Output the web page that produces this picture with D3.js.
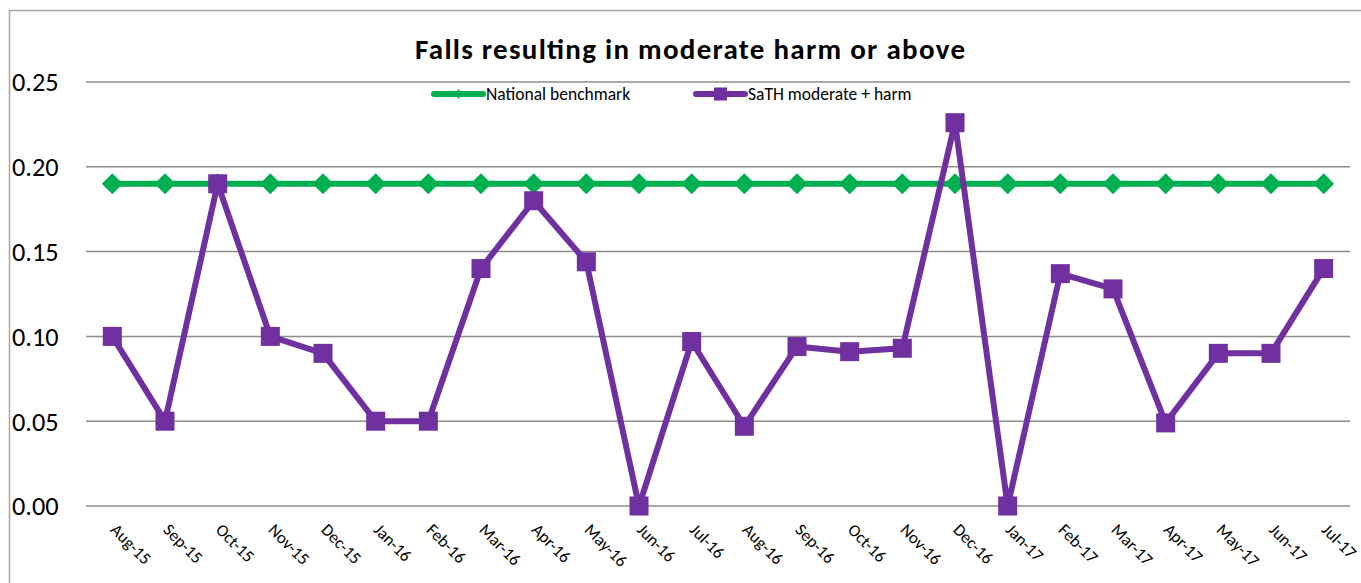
<!DOCTYPE html>
<html>
<head>
<meta charset="utf-8">
<script src="https://cdn.jsdelivr.net/npm/d3@7"></script>
<style>
  html, body { margin: 0; padding: 0; background: #fff; }
  svg { display: block; font-family: Carlito, Calibri, Lato, "Open Sans", sans-serif; }
  .ylab text { font-size: 26.3px; fill: #000; }
  .xlab text { font-size: 17px; fill: #000; }
</style>
</head>
<body>
<svg id="chart" width="1361" height="583"></svg>
<script>
const months = ["Aug-15","Sep-15","Oct-15","Nov-15","Dec-15","Jan-16","Feb-16","Mar-16","Apr-16","May-16","Jun-16","Jul-16",
                "Aug-16","Sep-16","Oct-16","Nov-16","Dec-16","Jan-17","Feb-17","Mar-17","Apr-17","May-17","Jun-17","Jul-17"];
const benchmark = [0.19,0.19,0.19,0.19,0.19,0.19,0.19,0.19,0.19,0.19,0.19,0.19,
                   0.19,0.19,0.19,0.19,0.19,0.19,0.19,0.19,0.19,0.19,0.19,0.19];
const sath = [0.100,0.050,0.190,0.100,0.090,0.050,0.050,0.140,0.180,0.144,0.000,0.097,
              0.047,0.094,0.091,0.093,0.226,0.000,0.137,0.128,0.049,0.090,0.090,0.140];
const yTicks = [0, 0.05, 0.10, 0.15, 0.20, 0.25];
const seriesNames = ["National benchmark", "SaTH moderate + harm"];
const chartTitle = "Falls resulting in moderate harm or above";

const GREEN = "#00B050", PURPLE = "#7030A0", GRID = "#8c8c8c";

const svg = d3.select("#chart");

// outer chart frame (left and top edges visible)
svg.append("path")
  .attr("d", "M9.5,583 V10.5 H1361")
  .attr("fill", "none").attr("stroke", "#a6a6a6").attr("stroke-width", 1.5);

const plot = { left: 86, right: 1350, top: 82, bottom: 506 };

const x = d3.scaleBand().domain(months).range([plot.left, plot.right]);
const y = d3.scaleLinear().domain([0, 0.25]).range([plot.bottom, plot.top]);

// horizontal gridlines
svg.append("g")
  .selectAll("line").data(yTicks).join("line")
  .attr("x1", plot.left).attr("x2", plot.right)
  .attr("y1", d => y(d)).attr("y2", d => y(d))
  .attr("stroke", GRID).attr("stroke-width", 1.5);

// y axis labels, left aligned at the chart edge
const yAxis = d3.axisLeft(y).tickValues(yTicks).tickFormat(d3.format(".2f")).tickSize(0).tickPadding(0);
const gy = svg.append("g").attr("class", "ylab").attr("transform", "translate(12,0)").call(yAxis)
  .attr("font-family", null).attr("font-size", null);
gy.select(".domain").remove();
gy.selectAll("text")
  .attr("text-anchor", "start").attr("x", 0).attr("dy", "0.34em");

// x axis labels, rotated 45 degrees
const xAxis = d3.axisBottom(x).tickSize(0).tickPadding(0);
const gx = svg.append("g").attr("class", "xlab").attr("transform", `translate(0,${plot.bottom})`).call(xAxis)
  .attr("font-family", null).attr("font-size", null);
gx.select(".domain").remove();
gx.selectAll("text")
  .attr("text-anchor", "start")
  .attr("dy", null).attr("y", 0)
  .attr("transform", "translate(0,22) rotate(45)")
  .attr("dominant-baseline", "middle");

const cx = d => x(d) + x.bandwidth() / 2;
const line = d3.line().x(d => cx(d.m)).y(d => y(d.v));

const benchData = months.map((m, i) => ({ m, v: benchmark[i] }));
const sathData = months.map((m, i) => ({ m, v: sath[i] }));

// national benchmark series
svg.append("path").datum(benchData)
  .attr("d", line).attr("fill", "none")
  .attr("stroke", GREEN).attr("stroke-width", 6).attr("stroke-linejoin", "round");
svg.append("g").selectAll("path").data(benchData).join("path")
  .attr("d", d3.symbol(d3.symbolDiamond2, 280)())
  .attr("transform", d => `translate(${cx(d.m)},${y(d.v)})`)
  .attr("fill", GREEN);

// SaTH series
svg.append("path").datum(sathData)
  .attr("d", line).attr("fill", "none")
  .attr("stroke", PURPLE).attr("stroke-width", 6).attr("stroke-linejoin", "round");
svg.append("g").selectAll("rect").data(sathData).join("rect")
  .attr("x", d => cx(d.m) - 9.5).attr("y", d => y(d.v) - 9.5)
  .attr("width", 19).attr("height", 19)
  .attr("fill", PURPLE);

// title
svg.append("text")
  .attr("x", 690).attr("y", 59)
  .attr("text-anchor", "middle")
  .attr("font-size", 29).attr("font-weight", "bold").attr("fill", "#000")
  .attr("textLength", 550).attr("lengthAdjust", "spacing")
  .text(chartTitle);

// legend
const legend = svg.append("g");
const legendItems = [
  { name: seriesNames[0], color: GREEN, x0: 434, shape: "diamond" },
  { name: seriesNames[1], color: PURPLE, x0: 696, shape: "square" }
];
legendItems.forEach(it => {
  const g = legend.append("g").attr("transform", `translate(${it.x0},94)`);
  g.append("line").attr("x1", 0).attr("x2", 49).attr("y1", 0).attr("y2", 0)
    .attr("stroke", it.color).attr("stroke-width", 6).attr("stroke-linecap", "round");
  if (it.shape === "diamond") {
    g.append("path").attr("d", d3.symbol(d3.symbolDiamond2, 60)())
      .attr("transform", "translate(24.5,0)").attr("fill", it.color);
  } else {
    g.append("rect").attr("x", 18).attr("y", -6.5).attr("width", 13).attr("height", 13).attr("fill", it.color);
  }
  g.append("text").attr("x", 52).attr("y", 0).attr("dy", "0.35em")
    .attr("font-size", 17.5).attr("fill", "#000").text(it.name);
});
</script>
</body>
</html>
